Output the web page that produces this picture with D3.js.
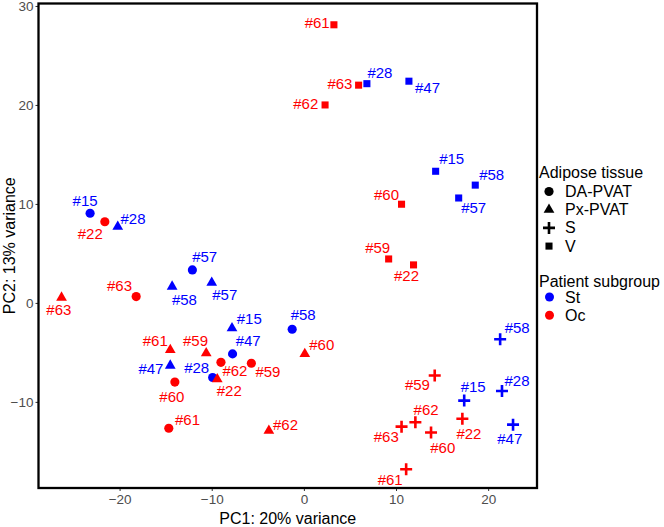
<!DOCTYPE html>
<html><head><meta charset="utf-8">
<script src="https://cdn.jsdelivr.net/npm/d3@7"></script>
<style>body{margin:0;background:#fff}svg{display:block}</style>
</head><body>
<svg id="chart" width="664" height="527"></svg>
<script>
// ---- data ----
const patients = ["#15","#22","#57","#63","#58","#47","#62","#59","#28","#60","#61",
  "#28","#58","#57","#63","#15","#61","#59","#60","#47","#22","#62",
  "#58","#59","#15","#28","#62","#63","#60","#22","#47","#61",
  "#61","#63","#28","#47","#62","#15","#58","#57","#60","#59","#22"];
const tissue = ["DA-PVAT","DA-PVAT","DA-PVAT","DA-PVAT","DA-PVAT","DA-PVAT","DA-PVAT","DA-PVAT","DA-PVAT","DA-PVAT","DA-PVAT",
  "Px-PVAT","Px-PVAT","Px-PVAT","Px-PVAT","Px-PVAT","Px-PVAT","Px-PVAT","Px-PVAT","Px-PVAT","Px-PVAT","Px-PVAT",
  "S","S","S","S","S","S","S","S","S","S",
  "V","V","V","V","V","V","V","V","V","V","V"];
const subgroup = ["St","Oc","St","Oc","St","St","Oc","Oc","St","Oc","Oc",
  "St","St","St","Oc","St","Oc","Oc","Oc","St","Oc","Oc",
  "St","Oc","St","St","Oc","Oc","Oc","Oc","St","Oc",
  "Oc","Oc","St","St","Oc","St","St","St","Oc","Oc","Oc"];
const pc1 = [-23.2,-21.6,-12.1,-18.2,-1.27,-7.74,-9.0,-5.7,-9.9,-14.0,-14.66,
  -20.2,-14.3,-10.0,-26.3,-7.8,-14.5,-10.6,0.1,-14.5,-9.4,-3.8,
  21.3,14.2,17.4,21.5,12.1,10.6,13.8,17.2,22.7,11.1,
  3.26,5.94,6.84,11.4,2.3,14.3,18.6,16.8,10.6,9.2,11.9];
const pc2 = [9.06,8.2,3.33,0.64,-2.66,-5.15,-6.0,-6.1,-7.54,-8.0,-12.66,
  7.7,1.65,2.05,0.54,-2.56,-4.75,-5.08,-5.15,-6.33,-7.7,-12.9,
  -3.67,-7.34,-9.87,-8.9,-12.05,-12.5,-13.1,-11.7,-12.3,-16.8,
  28.1,22.0,22.15,22.4,20.0,13.3,11.9,10.6,9.97,4.44,3.84];
// label nudges (pixels) as placed by the repel layout
const labelDx = [-5,-14.6,12.3,-16.7,11,15.6,14,16.6,-16,-3,18.7,
  15.3,12.3,13,-2.7,17.3,-15,-10.7,17,-19.3,12,16.7,
  17,-17.3,9,15,10.7,-15.3,11.7,6.6,-3.3,-16,
  -16.7,-18.7,13,18.6,-19.3,16,16.4,15,-15,-11,-7];
const labelDy = [-13,11.6,-13.3,-11,-14.3,-13.3,8.7,8.4,-10,14.4,-8.3,
  -7.7,12.6,12.3,12.3,-9.3,-9,-12.3,-9,3.3,11,-6,
  -11.6,9.3,-14,-11,-13,10,14.6,15,14.3,10.3,
  -2.3,-2,-11,6,-1.4,-12.4,-11,9.4,-10,-11,11];
const xTicks = [-20,-10,0,10,20];
const yTicks = [-10,0,10,20,30];
const tissueLevels = ["DA-PVAT","Px-PVAT","S","V"];
const groupLevels = ["St","Oc"];
const xTitle = "PC1: 20% variance";
const yTitle = "PC2: 13% variance";

// ---- drawing ----
const svg = d3.select("#chart");
const P = {l:38.5, r:537, t:3.5, b:488};
const x = d3.scaleLinear().domain([-28.8,25.3]).range([P.l,P.r]);
const y = d3.scaleLinear().domain([-18.7,30.25]).range([P.b,P.t]);
const color = d3.scaleOrdinal().domain(groupLevels).range(["#0000FF","#FF0000"]);
const font = "Liberation Sans, Arial, sans-serif";

function shapePath(t){
  if(t==="DA-PVAT") return d3.symbol(d3.symbolCircle,66)();
  if(t==="Px-PVAT") return d3.symbol(d3.symbolTriangle,50)();
  if(t==="V") return d3.symbol(d3.symbolSquare,50)();
  return "M-6,0H6M0,-6V6";
}
function drawShape(g,t,c){
  const p = g.append("path").attr("d",shapePath(t));
  if(t==="S") p.attr("fill","none").attr("stroke",c).attr("stroke-width",2.6);
  else p.attr("fill",c);
}

const data = patients.map((p,i)=>({p,t:tissue[i],g:subgroup[i],x:pc1[i],y:pc2[i],dx:labelDx[i],dy:labelDy[i]}));

// axes
const xAxis = d3.axisBottom(x).tickValues(xTicks).tickSize(3).tickPadding(3).tickFormat(d=>d<0?"\u2212"+(-d):d);
const yAxis = d3.axisLeft(y).tickValues(yTicks).tickSize(3).tickPadding(2).tickFormat(d=>d<0?"\u2212"+(-d):d);
const gx = svg.append("g").attr("transform",`translate(0,${P.b})`).call(xAxis);
const gy = svg.append("g").attr("transform",`translate(${P.l},0)`).call(yAxis);
[gx,gy].forEach(g=>{
  g.select(".domain").remove();
  g.selectAll(".tick line").attr("stroke","#333").attr("stroke-width",1);
  g.selectAll(".tick text").attr("fill","#4d4d4d").style("font-family",font).style("font-size","13.5px");
});

// points
const pts = svg.append("g");
data.forEach(d=>{
  const g = pts.append("g").attr("transform",`translate(${x(d.x)},${y(d.y)})`);
  drawShape(g,d.t,color(d.g));
});
// labels
svg.append("g").selectAll("text").data(data).join("text")
  .attr("x",d=>x(d.x)+d.dx).attr("y",d=>y(d.y)+d.dy)
  .attr("text-anchor","middle").attr("dominant-baseline","central")
  .attr("fill",d=>color(d.g)).style("font-family",font).style("font-size","15px")
  .text(d=>d.p);

// panel border
svg.append("rect").attr("x",P.l).attr("y",P.t).attr("width",P.r-P.l).attr("height",P.b-P.t)
  .attr("fill","none").attr("stroke","#000").attr("stroke-width",2.3);

// titles
svg.append("text").attr("x",(P.l+P.r)/2).attr("y",518).attr("text-anchor","middle")
  .attr("dominant-baseline","central").style("font-family",font).style("font-size","16px").text(xTitle);
svg.append("text").attr("transform",`translate(9,${(P.t+P.b)/2}) rotate(-90)`).attr("text-anchor","middle")
  .attr("dominant-baseline","central").style("font-family",font).style("font-size","16px").text(yTitle);

// legends
const lg = svg.append("g").style("font-family",font).style("font-size","16px");
lg.append("text").attr("x",539).attr("y",172).attr("dominant-baseline","central").text("Adipose tissue");
tissueLevels.forEach((t,i)=>{
  const yy = 191.5 + i*18.2;
  const g = lg.append("g").attr("transform",`translate(549,${yy})`);
  drawShape(g,t,"#000");
  lg.append("text").attr("x",565).attr("y",yy).attr("dominant-baseline","central").text(t);
});
lg.append("text").attr("x",539).attr("y",281.5).attr("dominant-baseline","central").text("Patient subgroup");
groupLevels.forEach((gname,i)=>{
  const yy = 297 + i*18.2;
  lg.append("circle").attr("cx",549.5).attr("cy",yy).attr("r",4.5).attr("fill",color(gname));
  lg.append("text").attr("x",565).attr("y",yy).attr("dominant-baseline","central").text(gname);
});
</script>
</body></html>
